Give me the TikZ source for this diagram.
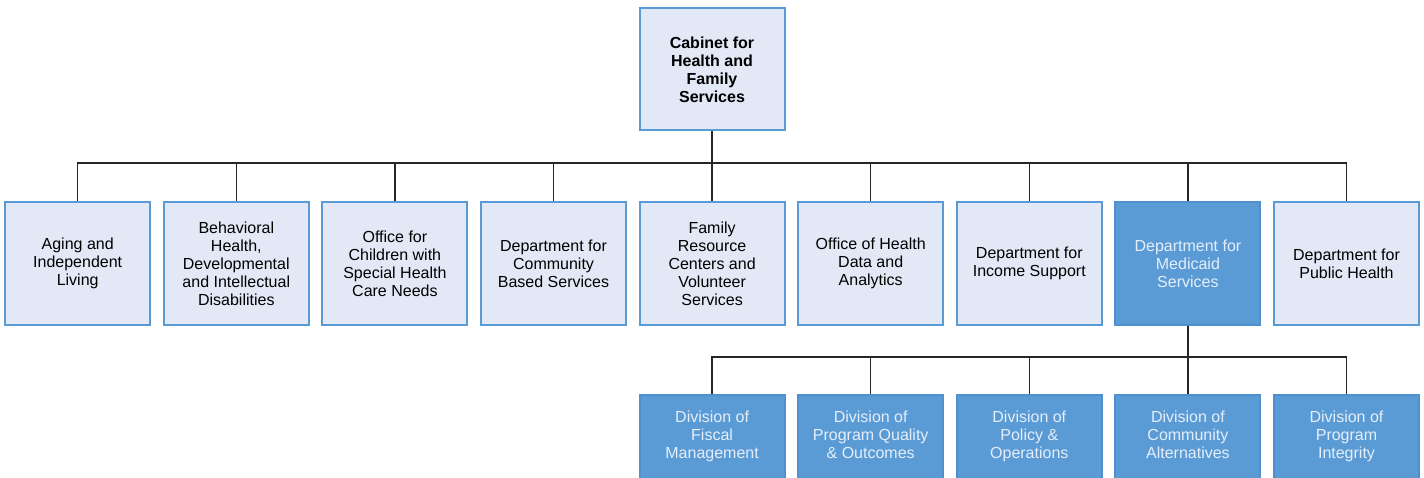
\documentclass[tikz,border=0pt]{standalone}
\usepackage{fontspec}
\setmainfont{Liberation Sans}
\begin{document}
\definecolor{paleblue}{RGB}{226,232,245}
\definecolor{edgeblue}{RGB}{91,155,213}
\definecolor{deepblue}{RGB}{91,155,213}
\definecolor{deepedge}{RGB}{80,144,206}
\definecolor{lighttext}{RGB}{228,238,250}
\begin{tikzpicture}[x=1pt,y=-1pt,
  unitbox/.style={draw=edgeblue, line width=2pt, fill=paleblue, minimum width=145pt,
    minimum height=122pt, inner sep=2pt, align=center,
    font=\fontsize{16pt}{18pt}\selectfont, text=black},
  mainbox/.style={unitbox, font=\fontsize{16pt}{18pt}\selectfont\bfseries},
  darkbox/.style={unitbox, draw=deepedge, fill=deepblue, text=lighttext},
  divbox/.style={darkbox, minimum height=130pt, anchor=north},
  divtext/.style={align=center, font=\fontsize{16pt}{18pt}\selectfont, text=lighttext,
    inner sep=0pt, anchor=base},
  link/.style={draw=black!85, line width=1.5pt}]
\useasboundingbox (0,0) rectangle (1424,478);

% cabinet
\node[mainbox] (cab) at (712,69.5) {Cabinet for\\Health and\\Family\\Services};

% departments and offices
\node[unitbox] (a1) at (77.7,263.5) {Aging and\\Independent\\Living};
\node[unitbox] (a2) at (236.3,263.5) {Behavioral\\Health,\\Developmental\\and Intellectual\\Disabilities};
\node[unitbox] (a3) at (394.9,263.5) {Office for\\Children with\\Special Health\\Care Needs};
\node[unitbox] (a4) at (553.5,263.5) {Department for\\Community\\Based Services};
\node[unitbox] (a5) at (712.1,263.5) {Family\\Resource\\Centers and\\Volunteer\\Services};
\node[unitbox] (a6) at (870.7,263.5) {Office of Health\\Data and\\Analytics};
\node[unitbox] (a7) at (1029.3,263.5) {Department for\\Income Support};
\node[darkbox] (a8) at (1187.9,263.5) {Department for\\Medicaid\\Services};
\node[unitbox] (a9) at (1346.5,263.5) {Department for\\Public Health};

% divisions of Medicaid (boxes run past the lower edge)
\node[divbox] (d1) at (712.1,393.5) {};
\node[divbox] (d2) at (870.7,393.5) {};
\node[divbox] (d3) at (1029.3,393.5) {};
\node[divbox] (d4) at (1187.9,393.5) {};
\node[divbox] (d5) at (1346.5,393.5) {};
\node[divtext] (t1) at ([yshift=-64.5pt]d1.north) {Division of\\Fiscal\\Management};
\node[divtext] (t2) at ([yshift=-64.5pt]d2.north) {Division of\\Program Quality\\\& Outcomes};
\node[divtext] (t3) at ([yshift=-64.5pt]d3.north) {Division of\\Policy \&\\Operations};
\node[divtext] (t4) at ([yshift=-64.5pt]d4.north) {Division of\\Community\\Alternatives};
\node[divtext] (t5) at ([yshift=-64.5pt]d5.north) {Division of\\Program\\Integrity};

% connectors
\coordinate (bus) at (712,163);
\draw[link] (cab.south) -- (bus);
\foreach \n in {a1,a2,a3,a4,a5,a6,a7,a8,a9}
  \draw[link] (bus) -| (\n.north);

\coordinate (mbus) at (1187.9,357);
\draw[link] (a8.south) -- (mbus);
\foreach \n in {d1,d2,d3,d4,d5}
  \draw[link] (mbus) -| (\n.north);
\end{tikzpicture}
\end{document}
